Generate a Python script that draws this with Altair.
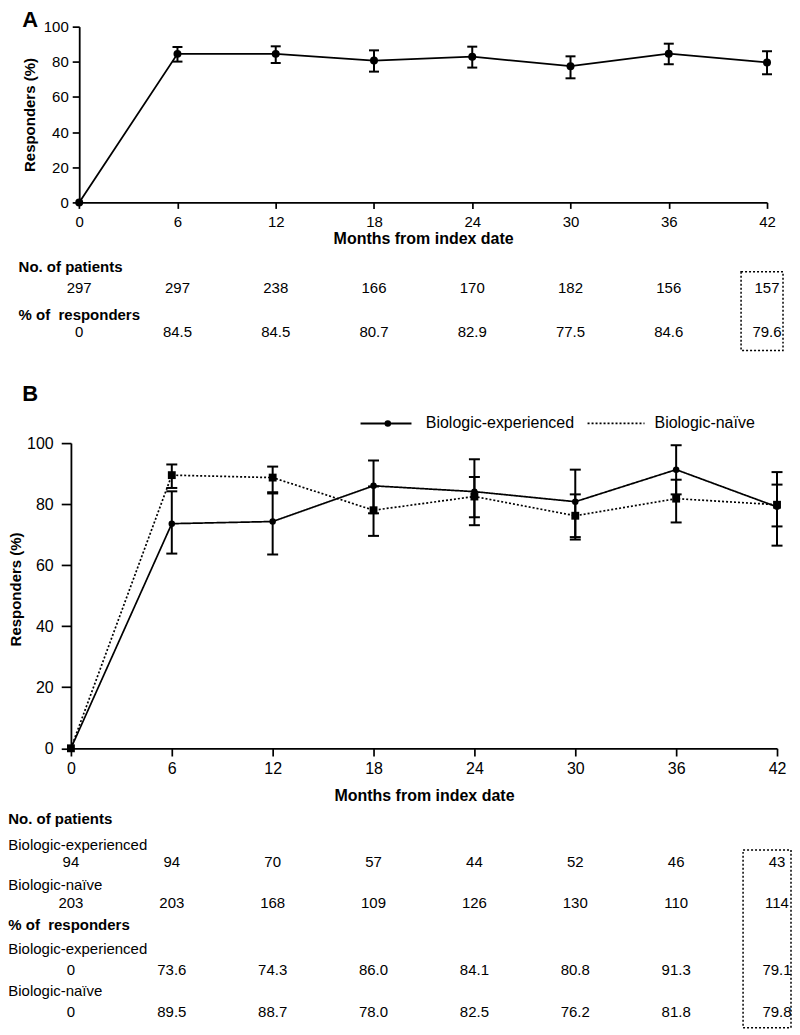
import altair as alt
import pandas as pd

# ---------------- data ----------------
months = [0, 6, 12, 18, 24, 30, 36, 42]
err_months = [6, 12, 18, 24, 30, 36, 42]

# Panel A (all patients)
pct_all = [0, 84.5, 84.5, 80.7, 82.9, 77.5, 84.6, 79.6]
n_all = [297, 297, 238, 166, 170, 182, 156, 157]
lo_all = [80.1, 79.3, 74.4, 76.7, 70.6, 78.6, 72.9]
hi_all = [88.4, 88.8, 86.5, 88.6, 83.1, 90.3, 86.0]

# Panel B (by prior biologic use)
groups = ["Biologic-experienced", "Biologic-naïve"]
pct_exp = [0, 73.6, 74.3, 86.0, 84.1, 80.8, 91.3, 79.1]
pct_naive = [0, 89.5, 88.7, 78.0, 82.5, 76.2, 81.8, 79.8]
n_exp = [94, 94, 70, 57, 44, 52, 46, 43]
n_naive = [203, 203, 168, 109, 126, 130, 110, 114]
lo_exp = [63.8, 63.5, 77.0, 73.1, 69.2, 83.2, 66.4]
hi_exp = [84.2, 83.5, 94.3, 94.7, 91.3, 99.3, 90.5]
lo_naive = [85.3, 83.9, 69.6, 75.7, 68.4, 74.0, 72.7]
hi_naive = [93.0, 92.3, 85.8, 88.9, 83.2, 88.0, 86.4]

y_ticks = [0, 20, 40, 60, 80, 100]


def fmt(v):
    return "0" if v == 0 else f"{v:.1f}"


# ---------------- layout constants ----------------
W = 707
HA = 176
HB = 305.6
BLACK = "black"


def row_label(text, x, y, bold=False, size=15):
    return alt.Chart(pd.DataFrame({"t": [text]})).mark_text(
        align="left", baseline="middle", fontSize=size,
        fontWeight="bold" if bold else "normal", color=BLACK
    ).encode(x=alt.value(x), y=alt.value(y), text="t:N")


def row_values(vals, xenc, y, size=15):
    df = pd.DataFrame({"month": months, "lab": [str(v) for v in vals]})
    return alt.Chart(df).mark_text(
        baseline="middle", fontSize=size, color=BLACK
    ).encode(x=xenc, y=alt.value(y), text="lab:N")


# ================= Panel A =================
xA = alt.X(
    "month:Q",
    scale=alt.Scale(domain=[0, 42], range=[8.3, 697], nice=False, zero=False),
    axis=alt.Axis(
        values=months, title="Months from index date", grid=False,
        labelFontSize=15, labelFlush=False, labelOverlap=False,
        labelBaseline="middle", labelPadding=13, tickSize=6,
        tickWidth=1.7, domainWidth=1.8, domainColor=BLACK, tickColor=BLACK,
        labelColor=BLACK, titleColor=BLACK, titleFontSize=16,
        titleFontWeight="bold", titleY=36, titleBaseline="middle",
    ),
)
yA_axis = alt.Axis(
    values=y_ticks, title="Responders (%)", grid=False, labelFontSize=15,
    tickSize=7, labelPadding=4, tickWidth=1.7, domainWidth=1.8,
    domainColor=BLACK, tickColor=BLACK, labelColor=BLACK, titleColor=BLACK,
    titleFontSize=15, titleFontWeight="bold", titleAngle=270,
    titleAlign="center", titleBaseline="middle", titleX=-49.7, titleY=HA / 2,
    offset=-8.3,
)
yA_scale = alt.Scale(domain=[0, 100], nice=False)

dfA = pd.DataFrame({"month": months, "pct": pct_all})
dfA_err = pd.DataFrame({"month": err_months, "lo": lo_all, "hi": hi_all})

lineA = alt.Chart(dfA).mark_line(color=BLACK, strokeWidth=1.8).encode(
    x=xA, y=alt.Y("pct:Q", scale=yA_scale, axis=yA_axis))
ruleA = alt.Chart(dfA_err).mark_rule(color=BLACK, strokeWidth=2).encode(
    x=xA, y=alt.Y("lo:Q", scale=yA_scale, axis=yA_axis), y2="hi:Q")
capA_lo = alt.Chart(dfA_err).mark_tick(
    orient="horizontal", color=BLACK, size=10, thickness=2, opacity=1).encode(
    x=xA, y=alt.Y("lo:Q", scale=yA_scale, axis=yA_axis))
capA_hi = alt.Chart(dfA_err).mark_tick(
    orient="horizontal", color=BLACK, size=10, thickness=2, opacity=1).encode(
    x=xA, y=alt.Y("hi:Q", scale=yA_scale, axis=yA_axis))
ptsA = alt.Chart(dfA).mark_point(
    filled=True, color=BLACK, size=64, opacity=1).encode(
    x=xA, y=alt.Y("pct:Q", scale=yA_scale, axis=yA_axis))

letterA = alt.Chart(pd.DataFrame({"t": ["A"]})).mark_text(
    align="left", baseline="top", fontSize=22, fontWeight="bold", color=BLACK
).encode(x=alt.value(-48.7), y=alt.value(-16.6), text="t:N")

boxA = alt.Chart(pd.DataFrame({"m": [42]})).mark_rect(
    filled=False, stroke=BLACK, strokeWidth=1.5, strokeDash=[2, 2],
    xOffset=-26, x2Offset=16,
).encode(x=alt.datum(42), x2=alt.datum(42), y=alt.value(245.4), y2=alt.value(324.4))

tableA = [
    row_label("No. of patients", -52.4, 240.7, bold=True),
    row_values(n_all, xA, 261.7),
    row_label("% of\u00a0 responders", -52.4, 288.7, bold=True),
    row_values([fmt(v) for v in pct_all], xA, 305.7),
]

chartA = alt.layer(
    lineA, ruleA, capA_lo, capA_hi, ptsA, letterA, boxA, *tableA
).properties(width=W, height=HA)

# ================= Panel B =================
xB = alt.X(
    "month:Q",
    scale=alt.Scale(domain=[0, 42], nice=False, zero=False),
    axis=alt.Axis(
        values=months, title="Months from index date", grid=False,
        labelFontSize=16, labelFlush=False, labelOverlap=False,
        labelBaseline="middle", labelPadding=13, tickSize=7.7,
        tickWidth=1.7, domainWidth=1.8, domainColor=BLACK, tickColor=BLACK,
        labelColor=BLACK, titleColor=BLACK, titleFontSize=16,
        titleFontWeight="bold", titleY=47.7, titleBaseline="middle",
    ),
)
yB_axis = alt.Axis(
    values=y_ticks, title="Responders (%)", grid=False, labelFontSize=16,
    tickSize=9.7, labelPadding=8, tickWidth=1.7, domainWidth=1.8,
    domainColor=BLACK, tickColor=BLACK, labelColor=BLACK, titleColor=BLACK,
    titleFontSize=15, titleFontWeight="bold", titleAngle=270,
    titleAlign="center", titleBaseline="middle", titleX=-55, titleY=146,
)
yB_scale = alt.Scale(domain=[0, 100], nice=False)

dfB = pd.DataFrame({
    "month": months * 2,
    "pct": pct_exp + pct_naive,
    "group": [groups[0]] * 8 + [groups[1]] * 8,
})
dfB_err = pd.DataFrame({
    "month": err_months * 2,
    "lo": lo_exp + lo_naive,
    "hi": hi_exp + hi_naive,
    "group": [groups[0]] * 7 + [groups[1]] * 7,
})

dash = alt.StrokeDash("group:N", scale=alt.Scale(domain=groups, range=[[1, 0], [2, 2]]), legend=None)
shape = alt.Shape("group:N", scale=alt.Scale(domain=groups, range=["circle", "square"]), legend=None)
size = alt.Size("group:N", scale=alt.Scale(domain=groups, range=[42, 62]), legend=None)

lineB = alt.Chart(dfB).mark_line(color=BLACK, strokeWidth=1.7).encode(
    x=xB, y=alt.Y("pct:Q", scale=yB_scale, axis=yB_axis), strokeDash=dash)
ruleB = alt.Chart(dfB_err).mark_rule(color=BLACK, strokeWidth=2).encode(
    x=xB, y=alt.Y("lo:Q", scale=yB_scale, axis=yB_axis), y2="hi:Q", detail="group:N")
capB_lo = alt.Chart(dfB_err).mark_tick(
    orient="horizontal", color=BLACK, size=11, thickness=2, opacity=1).encode(
    x=xB, y=alt.Y("lo:Q", scale=yB_scale, axis=yB_axis))
capB_hi = alt.Chart(dfB_err).mark_tick(
    orient="horizontal", color=BLACK, size=11, thickness=2, opacity=1).encode(
    x=xB, y=alt.Y("hi:Q", scale=yB_scale, axis=yB_axis))
ptsB = alt.Chart(dfB).mark_point(filled=True, color=BLACK, opacity=1).encode(
    x=xB, y=alt.Y("pct:Q", scale=yB_scale, axis=yB_axis), shape=shape, size=size)

letterB = alt.Chart(pd.DataFrame({"t": ["B"]})).mark_text(
    align="left", baseline="top", fontSize=22, fontWeight="bold", color=BLACK
).encode(x=alt.value(-48.7), y=alt.value(-59.3), text="t:N")

one = pd.DataFrame({"k": [1]})
leg_y = -19.7
legend_layers = [
    alt.Chart(one).mark_rule(color=BLACK, strokeWidth=2).encode(
        x=alt.value(290), x2=alt.value(341), y=alt.value(leg_y)),
    alt.Chart(one).mark_point(filled=True, color=BLACK, size=42, opacity=1).encode(
        x=alt.value(317.3), y=alt.value(leg_y)),
    row_label(groups[0], 355.3, leg_y, size=16),
    alt.Chart(one).mark_rule(color=BLACK, strokeWidth=1.7, strokeDash=[2, 2]).encode(
        x=alt.value(517.3), x2=alt.value(574.3), y=alt.value(leg_y)),
    row_label(groups[1], 584.3, leg_y, size=16),
]

boxB = alt.Chart(pd.DataFrame({"m": [42]})).mark_rect(
    filled=False, stroke=BLACK, strokeWidth=1.5, strokeDash=[2, 2],
    xOffset=-34, x2Offset=14,
).encode(x=alt.datum(42), x2=alt.datum(42), y=alt.value(407.3), y2=alt.value(585.3))

lx = -62.7
tableB = [
    row_label("No. of patients", lx, 376.3, bold=True),
    row_label(groups[0], lx, 402.3),
    row_values(n_exp, xB, 419.8),
    row_label(groups[1], lx, 442.3),
    row_values(n_naive, xB, 460.3),
    row_label("% of\u00a0 responders", lx, 482.3, bold=True),
    row_label(groups[0], lx, 506.3),
    row_values([fmt(v) for v in pct_exp], xB, 527.3),
    row_label(groups[1], lx, 548.3),
    row_values([fmt(v) for v in pct_naive], xB, 569.3),
]

chartB = alt.layer(
    lineB, ruleB, capB_lo, capB_hi, ptsB, letterB, *legend_layers, boxB, *tableB
).properties(width=W, height=HB)

chart = alt.vconcat(chartA, chartB, spacing=30).properties(
    padding=0
).configure(font="Liberation Sans").configure_view(strokeWidth=0)

chart.save("out.html", embed_options={"renderer": "svg", "actions": False})
